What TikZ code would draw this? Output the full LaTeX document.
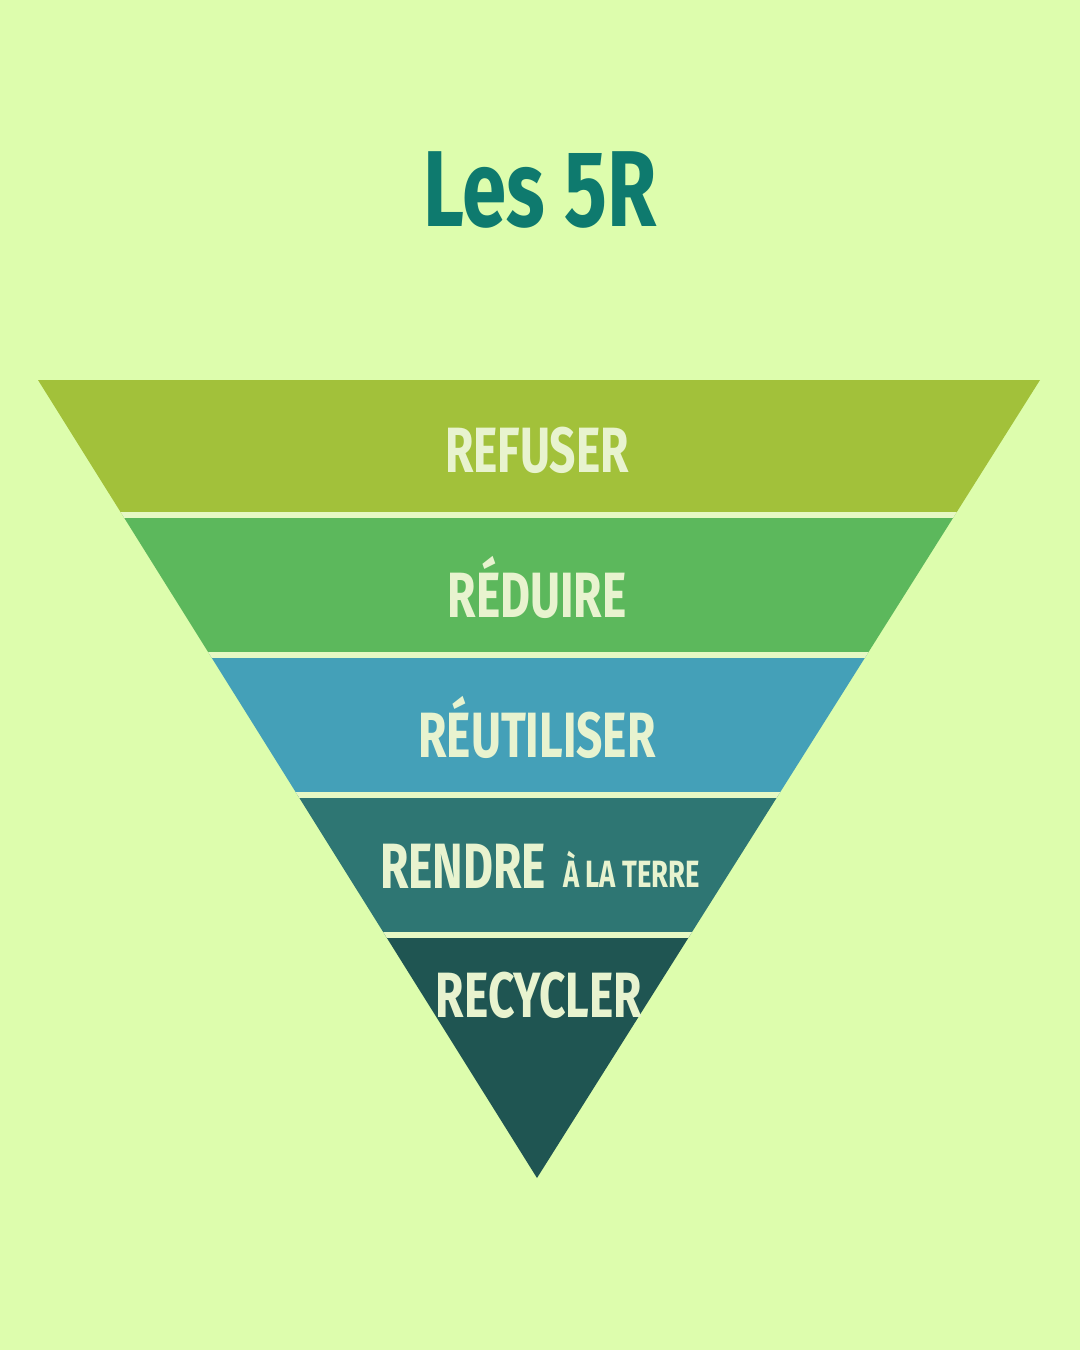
\documentclass[tikz,border=0pt]{standalone}
\usepackage{fontspec}
\setmainfont{Fira Sans}
\usepackage{graphicx}
\definecolor{bg}{HTML}{DDFDAD}
\definecolor{gapc}{HTML}{E6F8C4}
\definecolor{titlec}{HTML}{0E7A6E}
\definecolor{txt}{HTML}{E8F3CF}
\definecolor{cA}{HTML}{A2C13A}
\definecolor{cB}{HTML}{5CB85C}
\definecolor{cC}{HTML}{44A0B8}
\definecolor{cD}{HTML}{2E7673}
\definecolor{cE}{HTML}{1F5552}
\tikzset{lbl/.style={text=txt,font=\fontsize{64}{64}\bfseries,inner sep=0pt},
gap/.style={draw=gapc,line width=6pt}}
\begin{document}
\begin{tikzpicture}[x=1pt,y=-1pt]
\fill[bg] (0,0) rectangle (1080,1350);
\useasboundingbox (0,0) rectangle (1080,1350);
\node[text=titlec,font=\fontsize{108}{108}\bfseries,inner sep=0pt] (title) at (540,190) {\scalebox{0.74}[1]{Les 5R}};
\begin{scope}
\clip (38,380) -- (1040,380) -- (537,1178) -- cycle;
\fill[cA] (0,380) rectangle (1080,515);
\fill[cB] (0,515) rectangle (1080,655);
\fill[cC] (0,655) rectangle (1080,795);
\fill[cD] (0,795) rectangle (1080,935);
\fill[cE] (0,935) rectangle (1080,1180);
\draw[gap] (0,515) -- (1080,515);
\draw[gap] (0,655) -- (1080,655);
\draw[gap] (0,795) -- (1080,795);
\draw[gap] (0,935) -- (1080,935);
\end{scope}
\node[lbl] (r1) at (537,450) {\scalebox{0.72}[1]{REFUSER}};
\node[lbl] (r2) at (537,587) {\scalebox{0.72}[1]{RÉDUIRE}};
\node[lbl] (r3) at (537,727) {\scalebox{0.72}[1]{RÉUTILISER}};
\node[lbl] (r4) at (540,866) {\scalebox{0.72}[1]{RENDRE {\fontsize{38}{38}\bfseries\raisebox{1pt}{ À LA TERRE}}}};
\node[lbl] (r5) at (539,995) {\scalebox{0.72}[1]{RECYCLER}};
\end{tikzpicture}
\end{document}
